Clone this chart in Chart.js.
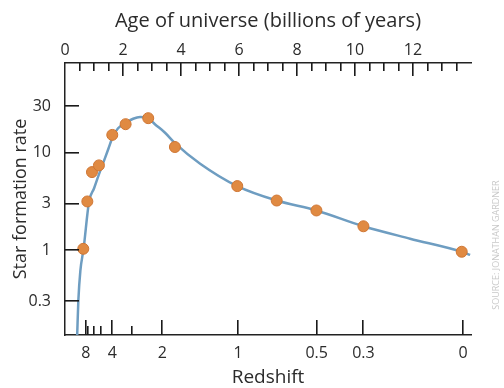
<!DOCTYPE html>
<html>
<head>
<meta charset="utf-8">
<script src="https://cdn.jsdelivr.net/npm/chart.js@4/dist/chart.umd.min.js"></script>
<style>
  html, body { margin: 0; background: #fff; }
  #wrap { width: 504px; height: 388px; }
</style>
</head>
<body>
<div id="wrap"><canvas id="sfr"></canvas></div>
<script>
// fitted curve (age in Gyr, rate)
let curveAge  = [0.42, 0.46, 0.53, 0.64, 0.83, 1.0, 1.17, 1.35, 1.5, 1.64, 1.83, 2.09, 2.35, 2.59, 2.87, 3.1, 3.45, 3.79, 4.66, 5.94, 7.3, 8.67, 10.29, 11.9, 13.68, 13.97];
let curveRate = [0.136, 0.305, 0.62, 1.04, 3.18, 4.32, 6.03, 8.39, 11.1, 14.5, 17.9, 20.2, 22.4, 23.4, 22.7, 19.7, 16.1, 12.6, 7.76, 4.57, 3.25, 2.57, 1.77, 1.32, 0.97, 0.9];

// measured points
let pointAge  = [0.63, 0.77, 0.93, 1.17, 1.63, 2.09, 2.87, 3.79, 5.94, 7.3, 8.67, 10.29, 13.68];
let pointRate = [1.04, 3.18, 6.36, 7.45, 15.3, 19.7, 22.7, 11.5, 4.57, 3.25, 2.57, 1.77, 0.97];

// axes
let ageLabels = [0, 2, 4, 6, 8, 10, 12];
let redshiftLabels = ['8', '4', '2', '1', '0.5', '0.3', '0'];
let redshiftAges = [0.72, 1.63, 3.36, 5.97, 8.68, 10.29, 13.73];
let redshiftMinorAges = [0.80, 1.01, 1.23, 2.30];
let rateTicks = [0.3, 1, 3, 10, 30];

const txt = '#2b2b2b';
const fontFam = '"Open Sans", sans-serif';

// tick marks point into the plot, like the printed figure
const inwardTicks = {
  id: 'inwardTicks',
  afterDraw(chart) {
    const {ctx, chartArea, scales} = chart;
    const top = scales.x2, bot = scales.x, left = scales.y;
    const {top: t0, bottom: b0, left: l0} = chartArea;
    ctx.save();
    ctx.fillStyle = '#1a1a1a';

    for (let v = 0.5; v < 14; v += 0.5) {
      let px = Math.round(top.getPixelForValue(v));
      ctx.fillRect(px - 1, t0, 1.6, v % 2 === 0 ? 13 : 8);
    }
    redshiftAges.forEach(a => {
      let px = Math.round(bot.getPixelForValue(a));
      ctx.fillRect(px - 1, b0 - 15, 1.6, 15);
    });
    redshiftMinorAges.forEach(a => {
      let px = Math.round(bot.getPixelForValue(a));
      ctx.fillRect(px - 1, b0 - 9, 1.6, 9);
    });
    rateTicks.forEach(r => {
      let py = Math.round(left.getPixelForValue(r));
      ctx.fillRect(l0, py - 1, 14, 1.6);
    });

    // credit line on the right edge
    ctx.fillStyle = '#c9c9c9';
    ctx.font = '9px ' + fontFam;
    ctx.textAlign = 'center';
    ctx.textBaseline = 'middle';
    ctx.translate(496, 245);
    ctx.rotate(-Math.PI / 2);
    ctx.fillText('SOURCE: JONATHAN GARDNER', 0, 0);
    ctx.restore();
  }
};

const noGrid = { display: false, drawTicks: false, tickLength: 0 };

new Chart(document.getElementById('sfr'), {
  type: 'scatter',
  data: {
    datasets: [{
      data: pointAge.map((a, i) => ({x: a, y: pointRate[i]})),
      backgroundColor: '#e08a42',
      borderColor: '#cf7634',
      borderWidth: 1,
      pointRadius: 5.5,
    }, {
      data: curveAge.map((a, i) => ({x: a, y: curveRate[i]})),
      showLine: true,
      borderColor: '#6e9dc1',
      borderWidth: 2.5,
      pointRadius: 0,
      cubicInterpolationMode: 'monotone',
    }]
  },
  options: {
    responsive: true,
    maintainAspectRatio: false,
    animation: false,
    events: [],
    layout: { padding: { top: 0, left: 0, bottom: 0, right: 33 } },
    plugins: { legend: { display: false }, tooltip: { enabled: false } },
    scales: {
      x: {
        type: 'linear',
        position: 'bottom',
        min: 0,
        max: 14,
        afterBuildTicks: ax => {
          ax.ticks = redshiftAges.map(v => ({value: v}));
        },
        afterFit: ax => { ax.height = 53; },
        grid: noGrid,
        border: { display: true, color: '#222', width: 1.5 },
        ticks: {
          autoSkip: false,
          maxRotation: 0,
          padding: 9,
          color: txt,
          font: { family: fontFam, size: 16 },
          callback: v => {
            let i = redshiftAges.indexOf(v);
            return i >= 0 ? redshiftLabels[i] : '';
          }
        },
        title: {
          display: true,
          text: 'Redshift',
          color: txt,
          font: { family: fontFam, size: 19, lineHeight: 1 },
          padding: { top: 0, bottom: 1 }
        }
      },
      x2: {
        type: 'linear',
        position: 'top',
        min: 0,
        max: 14,
        afterBuildTicks: ax => { ax.ticks = ageLabels.map(v => ({value: v})); },
        afterFit: ax => { ax.height = 63; },
        grid: noGrid,
        border: { display: true, color: '#222', width: 1.5 },
        ticks: {
          autoSkip: false,
          maxRotation: 0,
          padding: 3,
          color: txt,
          font: { family: fontFam, size: 16 },
          callback: v => String(v)
        },
        title: {
          display: true,
          text: 'Age of universe (billions of years)',
          color: txt,
          font: { family: fontFam, size: 20, lineHeight: 1 },
          padding: { top: 11, bottom: 0 }
        }
      },
      y: {
        type: 'logarithmic',
        position: 'left',
        min: 0.136,
        max: 83.5,
        afterBuildTicks: ax => { ax.ticks = rateTicks.map(v => ({value: v})); },
        afterFit: ax => { ax.width = 65; },
        grid: noGrid,
        border: { display: true, color: '#222', width: 1.5 },
        ticks: {
          autoSkip: false,
          padding: 14,
          color: txt,
          font: { family: fontFam, size: 16 },
          callback: v => String(v)
        },
        title: {
          display: true,
          text: 'Star formation rate',
          color: txt,
          font: { family: fontFam, size: 18, lineHeight: 1 },
          padding: { top: 12, bottom: 0 }
        }
      }
    }
  },
  plugins: [inwardTicks]
});
</script>
</body>
</html>
